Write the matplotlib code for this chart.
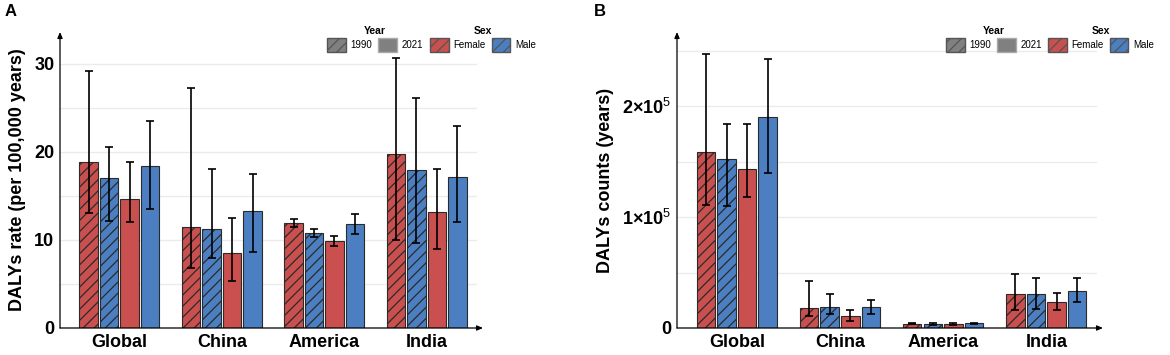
import matplotlib
matplotlib.use("Agg")
import matplotlib.pyplot as plt
from matplotlib.patches import Patch
from matplotlib.ticker import FixedLocator, FuncFormatter
import numpy as np

plt.rcParams['font.family'] = ['Liberation Sans', 'DejaVu Sans']
plt.rcParams['mathtext.fontset'] = 'custom'
plt.rcParams['mathtext.rm'] = 'Liberation Sans'
plt.rcParams['mathtext.bf'] = 'Liberation Sans:bold'
plt.rcParams['hatch.linewidth'] = 0.9

# ---------------- data ----------------
regions = ["Global", "China", "America", "India"]
series = ["Female 1990", "Male 1990", "Female 2021", "Male 2021"]

# DALYs rate (per 100,000)
rate_val = {
    "Female 1990": [18.9, 11.5, 11.9, 19.7],
    "Male 1990":   [17.0, 11.2, 10.8, 17.9],
    "Female 2021": [14.6, 8.5, 9.9, 13.2],
    "Male 2021":   [18.4, 13.3, 11.8, 17.1],
}
rate_low = {
    "Female 1990": [13.1, 6.8, 11.5, 10.0],
    "Male 1990":   [12.2, 7.9, 10.3, 9.7],
    "Female 2021": [12.0, 5.3, 9.3, 9.0],
    "Male 2021":   [13.5, 8.6, 10.7, 12.0],
}
rate_up = {
    "Female 1990": [29.2, 27.2, 12.4, 30.6],
    "Male 1990":   [20.6, 18.1, 11.2, 26.1],
    "Female 2021": [18.9, 12.5, 10.5, 18.1],
    "Male 2021":   [23.5, 17.5, 12.9, 22.9],
}

# DALYs counts
count_val = {
    "Female 1990": [159000, 18000, 3800, 31000],
    "Male 1990":   [152000, 19000, 3600, 30500],
    "Female 2021": [143000, 11000, 3600, 23500],
    "Male 2021":   [190000, 19000, 4300, 33000],
}
count_low = {
    "Female 1990": [111000, 11000, 3200, 16000],
    "Male 1990":   [110000, 13000, 3100, 17000],
    "Female 2021": [118000, 6500, 3100, 16500],
    "Male 2021":   [140000, 13000, 3700, 23500],
}
count_up = {
    "Female 1990": [247000, 42000, 4400, 49000],
    "Male 1990":   [184000, 31000, 4100, 45000],
    "Female 2021": [184000, 16000, 4100, 32000],
    "Male 2021":   [243000, 25000, 4900, 45000],
}

red = "#C9504F"
blue = "#4B7FC1"
fills = {"Female 1990": red, "Male 1990": blue, "Female 2021": red, "Male 2021": blue}
hatches = {"Female 1990": "///", "Male 1990": "///", "Female 2021": "", "Male 2021": ""}


def draw_panel(ax, val, low, up, ymax, major, minor, ylabel, fmt=None):
    x = np.arange(1, len(regions) + 1)
    slot = 0.2
    for i, s in enumerate(series):
        xs = x + (i - 1.5) * slot
        v = np.array(val[s])
        ax.bar(xs, v, width=0.18, color=fills[s], hatch=hatches[s],
               edgecolor="#2b2b2b", linewidth=0.8, zorder=3)
        ax.errorbar(xs, v, yerr=[v - np.array(low[s]), np.array(up[s]) - v],
                    fmt="none", ecolor="black", elinewidth=1.2, capsize=2.8,
                    capthick=1.2, zorder=4)
    # grid stops a little before the arrow head, as in ggplot
    for g in list(major) + list(minor):
        ax.plot([0.42, 4.48], [g, g], color="#EBEBEB", lw=1.0, zorder=1)
    ax.set_xlim(0.42, 4.55)
    ax.set_ylim(0, ymax)
    ax.set_xticks(x)
    ax.set_xticklabels(regions, fontsize=14, fontweight="bold")
    ax.yaxis.set_major_locator(FixedLocator(major))
    if fmt is not None:
        ax.yaxis.set_major_formatter(FuncFormatter(fmt))
    ax.tick_params(length=0, labelsize=13, pad=4)
    for lab in ax.get_yticklabels():
        lab.set_fontweight("bold")
    ax.set_ylabel(ylabel, fontsize=13, fontweight="bold", labelpad=6)
    for sp in ax.spines.values():
        sp.set_visible(False)
    arrow = dict(arrowstyle="-|>,head_length=0.35,head_width=0.15",
                 color="black", lw=0.9, shrinkA=0, shrinkB=0)
    ax.annotate("", xy=(0, 1), xytext=(0, 0), xycoords="axes fraction",
                arrowprops=arrow, zorder=5)
    ax.annotate("", xy=(1, 0), xytext=(0, 0), xycoords="axes fraction",
                arrowprops=arrow, zorder=5)


def sci(v, pos):
    if v == 0:
        return "0"
    return r"$\mathbf{%d×10}^{5}$" % int(round(v / 1e5))


fig = plt.figure(figsize=(11.7, 3.55), dpi=100)
axA = fig.add_axes([60 / 1170, 27 / 355, 423 / 1170, 296 / 355])
axB = fig.add_axes([677 / 1170, 27 / 355, 426 / 1170, 296 / 355])

draw_panel(axA, rate_val, rate_low, rate_up, 33.6, [0, 10, 20, 30], [5, 15, 25],
           "DALYs rate (per 100,000 years)")
draw_panel(axB, count_val, count_low, count_up, 2.67e5, [0, 1e5, 2e5],
           [0.5e5, 1.5e5, 2.5e5], "DALYs counts (years)", fmt=sci)

fig.text(5 / 1170, 1 - 12 / 355, "A", fontsize=12, fontweight="bold", va="center")
fig.text(594 / 1170, 1 - 12 / 355, "B", fontsize=12, fontweight="bold", va="center")

# legends
year_handles = [Patch(facecolor="#808080", edgecolor="#555555", hatch="///", label="1990"),
                Patch(facecolor="#808080", edgecolor="#aaaaaa", label="2021")]
sex_handles = [Patch(facecolor=red, edgecolor="#555555", hatch="///", label="Female"),
               Patch(facecolor=blue, edgecolor="#555555", hatch="///", label="Male")]

for cx_year, cx_sex in [(375, 483), (994, 1101)]:
    for cx, hs, title in [(cx_year, year_handles, "Year"), (cx_sex, sex_handles, "Sex")]:
        lg = fig.legend(handles=hs, title=title, ncol=2, loc="center",
                        bbox_to_anchor=(cx / 1170, 1 - 39 / 355), frameon=False,
                        fontsize=7, title_fontproperties={"weight": "bold", "size": 7.5},
                        handlelength=1.9, handleheight=1.9, handletextpad=0.5,
                        columnspacing=0.6, borderpad=0.1, labelspacing=0.2)
        lg.get_title().set_fontweight("bold")

fig.savefig("out.png", dpi=100)
